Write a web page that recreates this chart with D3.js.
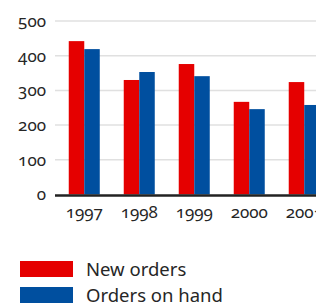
<!DOCTYPE html>
<html>
<head>
<meta charset="utf-8">
<script src="https://cdn.jsdelivr.net/npm/d3@7"></script>
<style>
  html, body { margin: 0; padding: 0; background: #fff; }
  svg text { font-family: "Noto Sans", sans-serif; fill: #262626; font-variant-numeric: oldstyle-nums; }
</style>
</head>
<body>
<div id="chart"></div>
<script>
// data
const years = ["1997", "1998", "1999", "2000", "2001"]
const newOrders = [442, 330, 376, 267, 324]
const ordersOnHand = [419, 353, 341, 246, 258]
const seriesNames = ["New orders", "Orders on hand"]
const yTicks = [0, 100, 200, 300, 400, 500]

const colors = ["#e50000", "#004f9f"]

const width = 316, height = 304
const svg = d3.select("#chart").append("svg")
    .attr("width", width)
    .attr("height", height)

// plot area
const plotLeft = 55, plotRight = 333.5, plotTop = 21, plotBottom = 194.5

const x = d3.scaleBand()
    .domain(years)
    .range([plotLeft, plotRight])
    .paddingInner(0.436)
    .paddingOuter(0.25)

const sub = d3.scaleBand()
    .domain(seriesNames)
    .range([0, x.bandwidth()])

const y = d3.scaleLinear()
    .domain([0, 500])
    .range([plotBottom, plotTop])

// gridlines
svg.append("g")
    .selectAll("line")
    .data(yTicks.filter(d => d > 0))
    .enter().append("line")
    .attr("x1", plotLeft)
    .attr("x2", width)
    .attr("y1", d => y(d))
    .attr("y2", d => y(d))
    .attr("stroke", "#e0e0e0")
    .attr("stroke-width", 1.5)

// y labels
svg.append("g")
    .selectAll("text")
    .data(yTicks)
    .enter().append("text")
    .attr("x", 46)
    .attr("y", d => y(d))
    .attr("dy", "0.35em")
    .attr("text-anchor", "end")
    .style("font-size", "17px")
    .text(d => d)

// bars
const rows = years.map((yr, i) => ({ year: yr, values: [newOrders[i], ordersOnHand[i]] }))

const groups = svg.append("g")
    .selectAll("g")
    .data(rows)
    .enter().append("g")
    .attr("transform", d => "translate(" + x(d.year) + ",0)")

groups.selectAll("rect")
    .data(d => d.values.map((v, j) => ({ name: seriesNames[j], value: v, j: j })))
    .enter().append("rect")
    .attr("x", d => sub(d.name))
    .attr("width", sub.bandwidth())
    .attr("y", d => y(d.value))
    .attr("height", d => y(0) - y(d.value))
    .attr("fill", d => colors[d.j])

// baseline
svg.append("line")
    .attr("x1", plotLeft)
    .attr("x2", width)
    .attr("y1", y(0) + 1)
    .attr("y2", y(0) + 1)
    .attr("stroke", "#222")
    .attr("stroke-width", 2.5)

// x labels
svg.append("g")
    .selectAll("text")
    .data(years)
    .enter().append("text")
    .attr("x", d => x(d) + x.bandwidth() / 2)
    .attr("y", 218)
    .attr("text-anchor", "middle")
    .style("font-size", "17px")
    .text(d => d)

// legend
const legend = svg.append("g")
    .selectAll("g")
    .data(seriesNames)
    .enter().append("g")
    .attr("transform", (d, i) => "translate(20," + (261 + i * 26) + ")")

legend.append("rect")
    .attr("width", 53)
    .attr("height", 16)
    .attr("fill", (d, i) => colors[i])

legend.append("text")
    .attr("x", 66)
    .attr("y", 8)
    .attr("dy", "0.36em")
    .style("font-size", "18.5px")
    .text(d => d)
</script>
</body>
</html>
